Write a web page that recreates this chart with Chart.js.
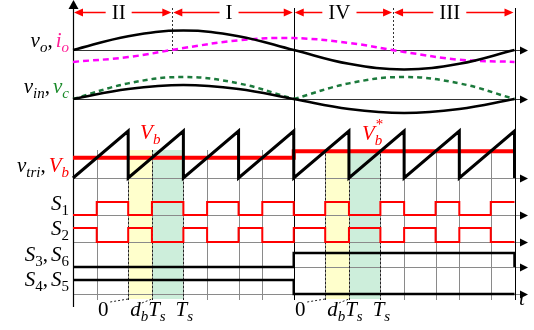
<!DOCTYPE html>
<html>
<head>
<meta charset="utf-8">
<script src="https://cdn.jsdelivr.net/npm/chart.js@4.4.1/dist/chart.umd.min.js"></script>
<style>
  html, body { margin: 0; padding: 0; background: #fff; }
  #wrap { width: 534px; height: 330px; position: relative; }
</style>
</head>
<body>
<div id="wrap"><canvas id="wave"></canvas></div>
<script>
// === DATA (time in switching periods Ts, levels per unit) ===
const tGrid = [0, 1, 2, 3, 4, 5, 6, 7, 8];
const vO  = [0, 0.71, 1, 0.71, 0, -0.71, -1, -0.71, 0];
const iO  = [-0.99, -0.59, 0.16, 0.81, 0.99, 0.59, -0.16, -0.81, -0.99];
const vIn = [0, 0.71, 1, 0.71, 0, -0.71, -1, -0.71, 0];
const vC  = [0, 0.71, 1, 0.71, 0, 0.71, 1, 0.71, 0];
const halfEdges = [0, 4, 8];
const vB  = [0.43, 0.57];          // V_b in first half, V_b* in second half
const s36 = [0, 1];
const s45 = [1, 0];
const sectorNames = ['II', 'I', 'IV', 'III'];
const sectorEdges = [0, 1.8, 4, 5.8, 8];
const shadeLeft  = [1, 1.43, 2];
const shadeRight = [4.57, 5, 5.57];

// === LAYOUT ===
const W = 534, H = 330, X0 = 73, X8 = 514.5;
const ppu = (X8 - X0) / 8;
const lanes = {
  vo:  { base: 50,  amp: 19.5 },
  io:  { base: 50,  amp: 12 },
  vin: { base: 99,  amp: 14 },
  vc:  { base: 99,  amp: 22 },
  tri: { base: 178, amp: 47 },
  s1:  { base: 215, amp: 13 },
  s2:  { base: 242, amp: 14 },
  s36: { base: 267, amp: 14 },
  s45: { base: 294, amp: 14 }
};
const laneY = (name, v) => lanes[name].base - lanes[name].amp * v;
const RED = '#ff0000', MAG = '#ff00ff', PINK = '#ff1e96', GREEN = '#1a8a2a', DGREEN = '#1c7a3c';
const SERIF = '"Liberation Serif", "DejaVu Serif", serif';

const nPer = tGrid[tGrid.length - 1];
const vbAt = t => (t < halfEdges[1] ? vB[0] : vB[1]);

// === BUILD SERIES ===
const curve = (name, vals, from, to) =>
  tGrid.slice(from, to).map((t, i) => ({ x: t, y: laneY(name, vals[from + i]) }));

const triPts = [];
for (let k = 0; k < nPer; k++) {
  triPts.push({ x: k, y: laneY('tri', 0) }, { x: k + 1, y: laneY('tri', 1) });
}
triPts.push({ x: nPer, y: laneY('tri', 0) });

const vbPts = [];
vB.forEach((v, h) => {
  vbPts.push({ x: halfEdges[h], y: laneY('tri', v) }, { x: halfEdges[h + 1], y: laneY('tri', v) });
});

const s1Pts = [], s2Pts = [];
for (let k = 0; k < nPer; k++) {
  const d = vbAt(k);
  s1Pts.push({ x: k, y: laneY('s1', 0) }, { x: k + d, y: laneY('s1', 0) },
             { x: k + d, y: laneY('s1', 1) }, { x: k + 1, y: laneY('s1', 1) });
  s2Pts.push({ x: k, y: laneY('s2', 1) }, { x: k + d, y: laneY('s2', 1) },
             { x: k + d, y: laneY('s2', 0) }, { x: k + 1, y: laneY('s2', 0) });
}

const stepHalves = (name, lv) => {
  const pts = [];
  lv.forEach((v, h) => {
    pts.push({ x: halfEdges[h], y: laneY(name, v) }, { x: halfEdges[h + 1], y: laneY(name, v) });
  });
  pts.push({ x: nPer, y: laneY(name, 0) });
  return pts;
};

const line = (data, color, width, extra) => Object.assign({
  data, borderColor: color, borderWidth: width, pointRadius: 0, tension: 0, fill: false, clip: false
}, extra || {});

// === MATH TEXT ===
function drawMath(ctx, parts, x, y, align) {
  const fonts = {
    i: 'italic 21px ' + SERIF, r: '21px ' + SERIF,
    si: 'italic 15px ' + SERIF, sr: '15px ' + SERIF, st: '15px ' + SERIF
  };
  const dy = { i: 0, r: 0, si: 5, sr: 5, st: -11 };
  let total = 0;
  parts.forEach(p => {
    if (p[1] === 'st') return;
    ctx.font = fonts[p[1]];
    total += ctx.measureText(p[0]).width + (p[3] || 0);
  });
  let cx = align === 'right' ? x - total : align === 'center' ? x - total / 2 : x;
  let lastSub = cx;
  ctx.textAlign = 'left';
  ctx.textBaseline = 'alphabetic';
  parts.forEach(p => {
    ctx.font = fonts[p[1]];
    ctx.fillStyle = p[2] || '#000';
    if (p[1] === 'st') { ctx.fillText(p[0], lastSub + 1, y + dy.st); return; }
    if (p[1] === 'si' || p[1] === 'sr') lastSub = cx;
    ctx.fillText(p[0], cx, y + dy[p[1]]);
    cx += ctx.measureText(p[0]).width + (p[3] || 0);
  });
}

function vLine(ctx, x, y1, y2, color, width, dash) {
  ctx.save();
  ctx.strokeStyle = color; ctx.lineWidth = width; ctx.setLineDash(dash || []);
  ctx.beginPath(); ctx.moveTo(x, y1); ctx.lineTo(x, y2); ctx.stroke();
  ctx.restore();
}
function arrowHead(ctx, tipX, tipY, dir, color, len, half) {
  ctx.fillStyle = color;
  ctx.beginPath();
  if (dir === 'right') { ctx.moveTo(tipX, tipY); ctx.lineTo(tipX - len, tipY - half); ctx.lineTo(tipX - len, tipY + half); }
  if (dir === 'left')  { ctx.moveTo(tipX, tipY); ctx.lineTo(tipX + len, tipY - half); ctx.lineTo(tipX + len, tipY + half); }
  if (dir === 'up')    { ctx.moveTo(tipX, tipY); ctx.lineTo(tipX - half, tipY + len); ctx.lineTo(tipX + half, tipY + len); }
  ctx.closePath(); ctx.fill();
}

// === BACKDROP: shading, grid, axes, sector arrows ===
const backdrop = {
  id: 'backdrop',
  beforeDatasetsDraw(chart) {
    const ctx = chart.ctx, xs = chart.scales.x;
    const px = t => Math.round(xs.getPixelForValue(t)) + 0.5;
    ctx.save();
    [shadeLeft, shadeRight].forEach(e => {
      ctx.fillStyle = '#ffffcc';
      ctx.fillRect(px(e[0]), 150, px(e[1]) - px(e[0]), 149);
      ctx.fillStyle = '#cdeedb';
      ctx.fillRect(px(e[1]), 150, px(e[2]) - px(e[1]), 149);
    });
    // switching grid
    for (let k = 0; k < nPer; k++) {
      vLine(ctx, px(k + vbAt(k)), 150, 300, '#8a8a8a', 1);
      if (k > 0 && k !== halfEdges[1]) vLine(ctx, px(k), 150, 300, '#8a8a8a', 1);
    }
    // baselines with arrows
    Object.keys(lanes).forEach(name => {
      if (name === 'io' || name === 'vc') return;
      const y = lanes[name].base + 0.5;
      ctx.strokeStyle = (name === 'vo' || name === 'vin') ? '#333' : '#8a8a8a';
      ctx.lineWidth = 1;
      ctx.beginPath(); ctx.moveTo(px(0), y); ctx.lineTo(W - 10, y); ctx.stroke();
      arrowHead(ctx, W - 6, y, 'right', '#000', 8, 4);
    });
    // main verticals
    vLine(ctx, px(0), 6, 307, '#000', 1.2);
    arrowHead(ctx, px(0), 0, 'up', '#000', 9, 5);
    halfEdges.slice(1).forEach(t => vLine(ctx, px(t), 8, 300, '#000', 1));
    [sectorEdges[1], sectorEdges[3]].forEach(t => vLine(ctx, px(t), 8, 56, '#333', 1, [2, 2]));
    [shadeLeft, shadeRight].forEach(e => e.forEach(t => vLine(ctx, px(t), 150, 300, '#222', 1, [2, 2])));
    // sector arrows
    const ya = 12.5;
    sectorNames.forEach((nm, i) => {
      const a = xs.getPixelForValue(sectorEdges[i]), b = xs.getPixelForValue(sectorEdges[i + 1]);
      ctx.strokeStyle = RED; ctx.lineWidth = 1.5;
      ctx.beginPath(); ctx.moveTo(a + 4, ya); ctx.lineTo(b - 4, ya); ctx.stroke();
      arrowHead(ctx, a + 1, ya, 'left', RED, 9, 4);
      arrowHead(ctx, b - 1, ya, 'right', RED, 9, 4);
      ctx.font = '21px ' + SERIF;
      const cx = (a + b) / 2 - 4, w = ctx.measureText(nm).width;
      ctx.fillStyle = '#fff';
      ctx.fillRect(cx - w / 2 - 6, ya - 8, w + 12, 16);
      ctx.fillStyle = '#000'; ctx.textAlign = 'center'; ctx.textBaseline = 'middle';
      ctx.fillText(nm, cx, ya + 1);
    });
    ctx.restore();
  }
};

// === LABELS ===
const labels = {
  id: 'labels',
  afterDatasetsDraw(chart) {
    const ctx = chart.ctx, xs = chart.scales.x;
    const px = t => xs.getPixelForValue(t);
    ctx.save();
    const R = 69;
    drawMath(ctx, [['v', 'i'], ['o', 'si'], [',', 'r', null, 3], ['i', 'i', PINK], ['o', 'si', PINK]], R, 47, 'right');
    drawMath(ctx, [['v', 'i'], ['in', 'si'], [',', 'r', null, 3], ['v', 'i', GREEN], ['c', 'si', GREEN]], R, 93, 'right');
    drawMath(ctx, [['v', 'i'], ['tri', 'si'], [',', 'r', null, 3], ['V', 'i', RED], ['b', 'si', RED]], R, 172, 'right');
    drawMath(ctx, [['S', 'i'], ['1', 'sr']], R, 210, 'right');
    drawMath(ctx, [['S', 'i'], ['2', 'sr']], R, 235, 'right');
    drawMath(ctx, [['S', 'i'], ['3', 'sr'], [',', 'r', null, 3], ['S', 'i'], ['6', 'sr']], R, 261, 'right');
    drawMath(ctx, [['S', 'i'], ['4', 'sr'], [',', 'r', null, 3], ['S', 'i'], ['5', 'sr']], R, 286, 'right');

    drawMath(ctx, [['V', 'i', RED], ['b', 'si', RED]], px(1.4), 139, 'center');
    drawMath(ctx, [['V', 'i', RED], ['b', 'si', RED], ['*', 'st', RED]], px(5.42), 140, 'center');

    [shadeLeft, shadeRight].forEach(e => {
      const a = px(e[0]), b = px(e[1]), c = px(e[2]);
      drawMath(ctx, [['0', 'r']], a - 25, 316, 'center');
      drawMath(ctx, [['d', 'i'], ['b', 'si'], ['T', 'i'], ['s', 'si']], b - 4, 316, 'center');
      drawMath(ctx, [['T', 'i'], ['s', 'si']], c + 1, 316, 'center');
      ctx.strokeStyle = '#222'; ctx.lineWidth = 1; ctx.setLineDash([2, 2]);
      ctx.beginPath(); ctx.moveTo(a - 18, 302); ctx.lineTo(a, 299); ctx.stroke();
      ctx.beginPath(); ctx.moveTo(b - 10, 303); ctx.lineTo(b, 299); ctx.stroke();
      ctx.setLineDash([]);
    });
    drawMath(ctx, [['t', 'i']], W - 12, 305, 'center');
    ctx.restore();
  }
};

const ds = [
  line(curve('vo', vO, 0, 9), '#000', 2.5, { tension: 0.4, order: 2 }),
  line(curve('io', iO, 0, 9), MAG, 2.5, { tension: 0.4, borderDash: [6, 4], order: 3 }),
  line(curve('vin', vIn, 0, 9), '#000', 2.5, { tension: 0.4, order: 2 }),
  line(curve('vc', vC, 0, 5), DGREEN, 2.5, { tension: 0.4, borderDash: [5, 4], order: 3 }),
  line(curve('vc', vC, 4, 9), DGREEN, 2.5, { tension: 0.4, borderDash: [5, 4], order: 3 }),
  line(vbPts, RED, 4, { order: 2 }),
  line(triPts, '#000', 3, { order: 1 }),
  line(s1Pts, RED, 2, { order: 2 }),
  line(s2Pts, RED, 2, { order: 2 }),
  line(stepHalves('s36', s36), '#000', 2.5, { order: 2 }),
  line(stepHalves('s45', s45), '#000', 2.5, { order: 2 })
];

new Chart(document.getElementById('wave'), {
  type: 'line',
  data: { datasets: ds },
  options: {
    responsive: true, maintainAspectRatio: false, animation: false, events: [],
    layout: { padding: 0 },
    plugins: { legend: { display: false }, tooltip: { enabled: false } },
    scales: {
      x: { type: 'linear', min: -X0 / ppu, max: (W - X0) / ppu, display: false },
      y: { type: 'linear', min: 0, max: H, reverse: true, display: false }
    }
  },
  plugins: [backdrop, labels]
});
</script>
</body>
</html>
